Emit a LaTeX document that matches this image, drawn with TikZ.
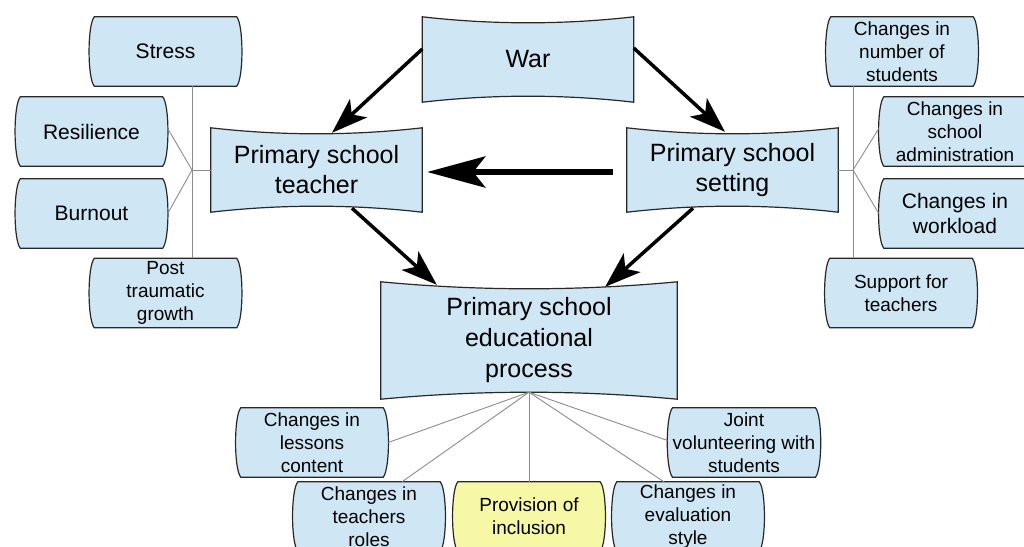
\documentclass[tikz,border=0pt]{standalone}
\usepackage{fontspec}
\setmainfont{Liberation Sans}
\usetikzlibrary{arrows.meta,calc,backgrounds}

\definecolor{boxblue}{RGB}{207,230,245}
\definecolor{boxyellow}{RGB}{246,248,166}
\definecolor{edgegray}{RGB}{40,40,40}
\definecolor{linkgray}{RGB}{140,140,140}

\tikzset{
  mainbox/.style={inner sep=0pt, minimum width=211pt, minimum height=84pt,
    align=center, font=\fontsize{25}{30}\selectfont},
  leafbox/.style={inner sep=0pt, minimum width=142pt, minimum height=69pt,
    align=center, font=\fontsize{19}{23}\selectfont},
  bigleaf/.style={leafbox, font=\fontsize{21}{25}\selectfont},
  shapeline/.style={draw=edgegray, line width=1.2pt, fill=boxblue},
  link/.style={draw=linkgray, line width=0.9pt},
  flow/.style={line width=3.5pt, -{Stealth[length=36pt,width=25pt,inset=9pt]}},
  bigflow/.style={line width=6pt, -{Stealth[length=58pt,width=31pt,inset=12pt]}},
}

% box with concave top and bottom edges: name, control x offset, control y offset
\newcommand\mainoutline[3]{%
  \draw[shapeline] (#1.north west) .. controls +(#2,#3) and +(-#2,#3) .. (#1.north east)
    -- (#1.south east) .. controls +(-#2,-#3) and +(#2,-#3) .. (#1.south west) -- cycle;}
% box with straight top and bottom and outward-bulging sides
\newcommand\leafoutline[2][boxblue]{%
  \draw[shapeline, fill=#1] (#2.north west) -- (#2.north east)
    .. controls +(7,8) and +(7,-8) .. (#2.south east) -- (#2.south west)
    .. controls +(-7,-8) and +(-7,8) .. (#2.north west) -- cycle;}

\begin{document}
\begin{tikzpicture}[x=1pt, y=-1pt]
\useasboundingbox (0,0) rectangle (1024,546);

% central concepts
\node[mainbox, minimum height=85pt] (war) at (528,59.5) {War};
\node[mainbox] (teacher) at (316.5,170) {Primary school\\teacher};
\node[mainbox] (setting) at (732.5,170) {Primary school\\setting};
\node[mainbox, minimum width=296pt, minimum height=117pt,
      font=\fontsize{25}{31}\selectfont] (process) at (529,340.5)
      {Primary school\\educational\\process};

% teacher factors
\node[bigleaf] (stress) at (165.5,51.5) {Stress};
\node[bigleaf] (resil) at (91.5,131.5) {Resilience};
\node[bigleaf] (burnout) at (91.5,213.5) {Burnout};
\node[leafbox] (post) at (165.5,293) {Post\\traumatic\\growth};

% setting factors
\node[leafbox] (nstud) at (902,51.5) {Changes in\\number of\\students};
\node[leafbox] (admin) at (955,131.5) {Changes in\\school\\administration};
\node[bigleaf] (workload) at (955,213.5) {Changes in\\workload};
\node[leafbox] (support) at (901,293) {Support for\\teachers};

% process factors
\node[leafbox] (lessons) at (312,442.5) {Changes in\\lessons\\content};
\node[leafbox] (joint) at (744,442.5) {Joint\\volunteering with\\students};
\node[leafbox] (troles) at (369,516.5) {Changes in\\teachers\\roles};
\node[leafbox] (inclusion) at (529,516.5) {Provision of\\inclusion};
\node[leafbox] (evalstyle) at (688,516.5) {Changes in\\evaluation\\style};

\begin{scope}[on background layer]
  \mainoutline{war}{70}{8}
  \mainoutline{teacher}{70}{8}
  \mainoutline{setting}{70}{8}
  \mainoutline{process}{99}{9.3}
  \foreach \n in {stress,resil,burnout,post,nstud,admin,workload,support,
                  lessons,joint,troles,evalstyle}
    {\leafoutline{\n}}
  \leafoutline[boxyellow]{inclusion}
\end{scope}

% hub points of the thin links
\coordinate (hubL) at (192,170);
\coordinate (hubR) at (853,170);
\coordinate (hubB) at ($(process.south)+(0,-7)$);

\draw[link] (teacher.west) -- (hubL);
\draw[link] (hubL |- stress.south) -- (hubL |- post.north);
\draw[link] ($(resil.east)+(5,-3)$) -- (hubL) -- ($(burnout.east)+(5,0)$);

\draw[link] (setting.east) -- (hubR);
\draw[link] (hubR |- nstud.south) -- (hubR |- support.north);
\draw[link] ($(admin.west)+(-5,-3)$) -- (hubR) -- ($(workload.west)+(-5,0)$);

\draw[link] (hubB) -- ($(lessons.east)+(5,0)$);
\draw[link] (hubB) -- ($(troles.north)+(33,0)$);
\draw[link] (hubB) -- (hubB |- inclusion.north);
\draw[link] (hubB) -- ($(evalstyle.north)+(-24,0)$);
\draw[link] (hubB) -- ($(joint.west)+(-5,-2)$);

% causal arrows
\draw[flow] ($(war.west)+(0,-10.5)$) -- ($(teacher.north)+(15.5,5)$);
\draw[flow] ($(war.east)+(0,-11.5)$) -- ($(setting.north)+(-7.5,4)$);
\draw[bigflow] ($(setting.west)+(-14,2)$) -- ($(teacher.east)+(5,2)$);
\draw[flow] ($(teacher.south)+(35.5,-4)$) -- ($(process.north west)+(56,3)$);
\draw[flow] ($(setting.south)+(-39.5,-4)$) -- ($(process.north east)+(-72,5)$);
\end{tikzpicture}
\end{document}
